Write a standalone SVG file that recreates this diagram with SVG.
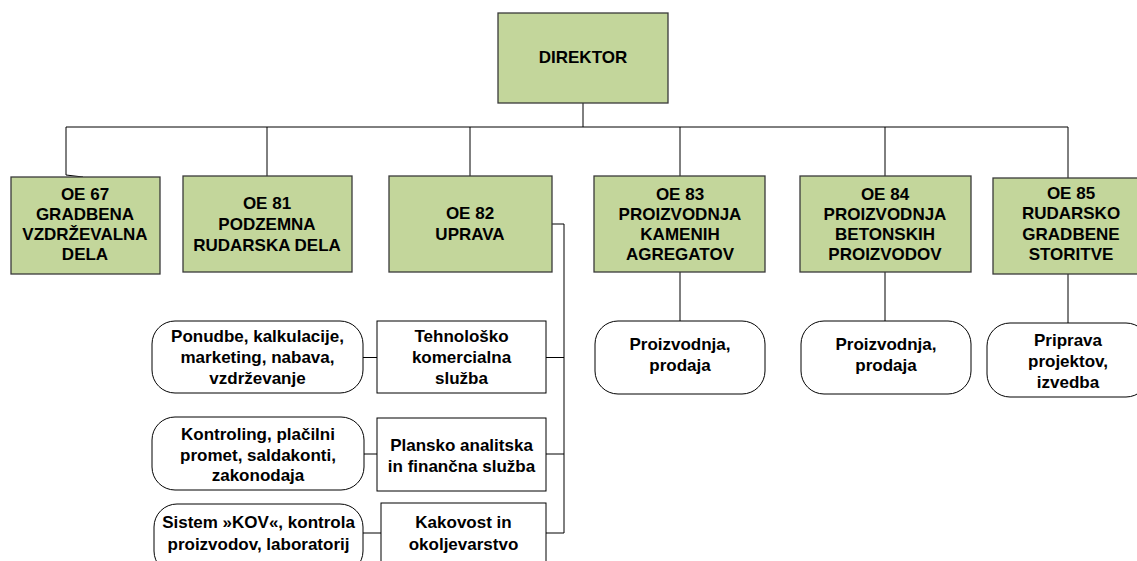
<svg xmlns="http://www.w3.org/2000/svg" width="1137" height="561" viewBox="0 0 1137 561">
<style>
.g{fill:#c3d69b;stroke:#3a3a3a;stroke-width:1.3}
.w{fill:#fff;stroke:#000;stroke-width:1}
.c{fill:none;stroke:#000;stroke-width:1}
text{font-family:"Liberation Sans",Arial,sans-serif;font-weight:bold;font-size:17px;text-anchor:middle;fill:#000}
</style>
<rect width="1137" height="561" fill="#fff"/>
<g id="connectors">
<polyline class="c" points="583,103 583,127"/>
<polyline class="c" points="66,127 1068,127"/>
<polyline class="c" points="66,127 66,175 83,177"/>
<polyline class="c" points="267,127 267,176"/>
<polyline class="c" points="470,127 470,176"/>
<polyline class="c" points="680,127 680,176"/>
<polyline class="c" points="885,127 885,176"/>
<polyline class="c" points="1068,127 1068,178"/>
<polyline class="c" points="680,272 680,321"/>
<polyline class="c" points="885,272 885,321"/>
<polyline class="c" points="1068,274 1068,323"/>
<polyline class="c" points="552,224 564,224 564,533"/>
<polyline class="c" points="546,357.5 564,357.5"/>
<polyline class="c" points="546,454 564,454"/>
<polyline class="c" points="546,533 564,533"/>
<polyline class="c" points="363,357.5 377,357.5"/>
<polyline class="c" points="364,454 377,454"/>
<polyline class="c" points="363,533 381,533"/>
</g>
<g id="direktor"><rect class="g" x="498" y="13" width="170" height="90"/><text x="583" y="63">DIREKTOR</text></g>
<g id="oe67"><rect class="g" x="11" y="177" width="149" height="97"/><text x="85" y="200">OE 67</text><text x="85" y="220">GRADBENA</text><text x="85" y="240">VZDRŽEVALNA</text><text x="85" y="260">DELA</text></g>
<g id="oe81"><rect class="g" x="183" y="176" width="169" height="96"/><text x="267" y="209">OE 81</text><text x="267" y="230">PODZEMNA</text><text x="267" y="251">RUDARSKA DELA</text></g>
<g id="oe82"><rect class="g" x="389" y="176" width="163" height="96"/><text x="470" y="219">OE 82</text><text x="470" y="240">UPRAVA</text></g>
<g id="oe83"><rect class="g" x="594" y="176" width="171" height="96"/><text x="680" y="200">OE 83</text><text x="680" y="220">PROIZVODNJA</text><text x="680" y="240">KAMENIH</text><text x="680" y="260">AGREGATOV</text></g>
<g id="oe84"><rect class="g" x="800" y="176" width="171" height="96"/><text x="885" y="200">OE 84</text><text x="885" y="220">PROIZVODNJA</text><text x="885" y="240">BETONSKIH</text><text x="885" y="260">PROIZVODOV</text></g>
<g id="oe85"><rect class="g" x="993" y="178" width="156" height="96"/><text x="1071" y="199">OE 85</text><text x="1071" y="219">RUDARSKO</text><text x="1071" y="240">GRADBENE</text><text x="1071" y="260">STORITVE</text></g>
<g id="p83"><rect class="w" x="595" y="321" width="170" height="73" rx="23" ry="23"/><text x="680" y="350">Proizvodnja,</text><text x="680" y="371">prodaja</text></g>
<g id="p84"><rect class="w" x="801" y="321" width="170" height="73" rx="23" ry="23"/><text x="886" y="350">Proizvodnja,</text><text x="886" y="371">prodaja</text></g>
<g id="p85"><rect class="w" x="987" y="323" width="162" height="74" rx="23" ry="23"/><text x="1068" y="346">Priprava</text><text x="1068" y="367">projektov,</text><text x="1068" y="388">izvedba</text></g>
<g id="tks"><rect class="w" x="377" y="321" width="169" height="72"/><text x="461.5" y="342">Tehnološko</text><text x="461.5" y="363">komercialna</text><text x="461.5" y="384">služba</text></g>
<g id="tks-d"><rect class="w" x="152" y="321" width="211" height="72" rx="23" ry="23"/><text x="257.5" y="342">Ponudbe, kalkulacije,</text><text x="257.5" y="363">marketing, nabava,</text><text x="257.5" y="384">vzdrževanje</text></g>
<g id="pafs"><rect class="w" x="377" y="418" width="169" height="73"/><text x="461.5" y="451">Plansko analitska</text><text x="461.5" y="472">in finančna služba</text></g>
<g id="pafs-d"><rect class="w" x="152" y="417" width="212" height="73" rx="23" ry="23"/><text x="258" y="440">Kontroling, plačilni</text><text x="258" y="461">promet, saldakonti,</text><text x="258" y="481">zakonodaja</text></g>
<g id="kak"><rect class="w" x="381" y="503" width="165" height="70"/><text x="463.5" y="528">Kakovost in</text><text x="463.5" y="550">okoljevarstvo</text></g>
<g id="kak-d"><rect class="w" x="154" y="504" width="209" height="70" rx="23" ry="23"/><text x="258.5" y="528">Sistem »KOV«, kontrola</text><text x="258.5" y="550">proizvodov, laboratorij</text></g>
</svg>
